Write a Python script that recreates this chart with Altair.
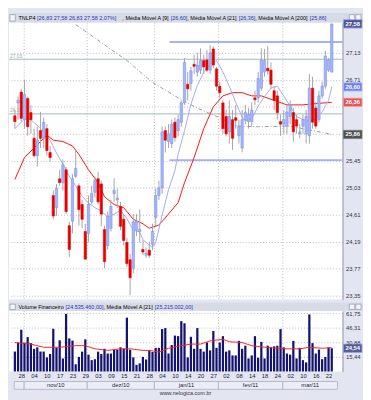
import altair as alt
import pandas as pd

# ---------------- data ----------------
ticker = "TNLP4"
day_labels = ['28', '04', '10', '17', '23', '29', '03', '09', '15', '21', '28', '04', '10',
              '14', '20', '27', '02', '08', '14', '18', '24', '02', '10', '16', '22']
label_first, label_step = 2, 4
month_names = ['', 'nov/10', 'dez/10', 'jan/11', 'fev/11', 'mar/11']
month_edges = [-0.2, 2.9, 22.6, 43.6, 63.6, 83.7, 100.8]

opens = [26.15, 26.35, 26.52, 26.09, 26.42, 26.20, 25.80, 25.53, 25.92, 25.80,
         25.95, 25.58, 24.91, 24.72, 25.17, 25.11, 25.31, 24.44, 24.51, 25.21,
         25.06, 24.77, 24.35, 24.32, 24.81, 24.96, 25.17, 25.09, 24.38, 24.13,
         24.40, 24.94, 24.84, 24.74, 24.54, 24.18, 23.91, 23.78, 24.37, 24.35,
         24.07, 23.98, 24.06, 24.15, 24.57, 24.91, 25.03, 25.92, 25.75, 25.72,
         26.05, 25.92, 26.05, 26.35, 26.64, 26.65, 26.95, 26.83, 26.86, 27.01,
         27.02, 26.86, 27.19, 26.88, 26.61, 26.35, 26.14, 25.90, 26.09, 26.12,
         25.84, 25.65, 26.09, 26.06, 26.06, 26.43, 26.43, 26.58, 26.83, 26.89,
         26.86, 26.54, 26.46, 26.06, 26.02, 25.99, 26.14, 26.20, 26.09, 25.87,
         25.99, 25.87, 25.84, 26.58, 26.27, 26.09, 26.46, 26.61, 26.86, 26.83]
highs = [26.24, 26.45, 26.57, 26.71, 26.45, 26.32, 25.95, 25.98, 26.21, 26.12,
         26.02, 25.68, 24.99, 25.09, 25.31, 25.47, 25.36, 24.50, 25.24, 25.62,
         25.10, 24.84, 24.47, 24.91, 25.06, 25.21, 25.28, 25.14, 24.44, 24.66,
         24.84, 25.18, 25.02, 24.81, 24.62, 24.25, 24.00, 24.62, 24.62, 24.69,
         24.21, 24.10, 24.18, 24.47, 25.02, 25.14, 25.98, 25.98, 26.02, 26.09,
         26.12, 26.17, 26.39, 27.05, 26.83, 26.91, 27.10, 27.13, 27.20, 27.10,
         27.17, 27.25, 27.23, 26.91, 26.68, 26.39, 26.24, 26.39, 26.24, 26.32,
         26.09, 26.24, 26.32, 26.27, 26.36, 26.54, 26.83, 27.20, 27.19, 27.23,
         26.98, 26.61, 26.54, 26.17, 26.24, 26.32, 26.39, 26.27, 26.17, 26.02,
         26.17, 26.24, 26.80, 26.76, 26.36, 26.54, 26.68, 27.16, 27.05, 27.58]
lows = [25.95, 26.09, 26.06, 25.95, 25.84, 25.87, 25.50, 25.36, 25.65, 25.65,
        25.53, 25.43, 24.54, 24.59, 25.06, 24.99, 24.62, 23.95, 24.32, 25.18,
        24.44, 24.40, 23.91, 24.18, 24.77, 24.88, 24.77, 24.43, 23.78, 24.07,
        24.35, 24.81, 24.72, 24.37, 24.13, 23.80, 23.36, 23.70, 24.28, 24.18,
        23.98, 23.94, 23.94, 24.06, 24.43, 24.84, 24.94, 25.58, 25.65, 25.65,
        25.75, 25.83, 25.98, 26.32, 26.39, 26.54, 26.80, 26.76, 26.80, 26.80,
        26.83, 26.80, 26.89, 26.54, 26.42, 25.87, 25.83, 25.72, 25.62, 25.95,
        25.72, 25.58, 26.02, 25.95, 25.98, 26.32, 26.36, 26.54, 26.76, 26.79,
        26.57, 26.24, 26.09, 25.84, 25.87, 25.87, 26.02, 25.75, 25.87, 25.80,
        25.87, 25.72, 25.72, 25.95, 25.95, 26.05, 26.42, 26.57, 26.83, 26.83]
closes = [26.06, 26.39, 26.11, 26.48, 25.98, 26.09, 25.53, 25.77, 25.80, 26.05,
          25.61, 25.50, 24.59, 25.02, 25.11, 25.39, 24.66, 24.07, 25.17, 25.33,
          24.69, 24.54, 23.92, 24.77, 24.94, 25.14, 24.81, 24.62, 23.88, 24.59,
          24.74, 24.99, 24.87, 24.43, 24.21, 23.85, 23.63, 24.50, 24.51, 24.38,
          24.03, 24.01, 23.98, 24.35, 24.91, 25.03, 25.90, 25.77, 25.87, 26.02,
          25.81, 26.09, 26.35, 26.98, 26.57, 26.85, 26.92, 26.94, 27.01, 26.91,
          26.86, 27.13, 26.94, 26.61, 26.51, 25.95, 25.87, 26.14, 25.80, 26.08,
          25.99, 26.09, 26.20, 26.17, 26.24, 26.40, 26.73, 27.02, 27.01, 26.85,
          26.64, 26.39, 26.20, 26.02, 26.09, 26.21, 26.32, 25.90, 25.99, 25.90,
          26.09, 26.14, 26.58, 26.05, 25.99, 26.46, 26.61, 27.08, 27.02, 27.58]
# financial volume, millions of R$
volumes = [21.1, 30.6, 44.2, 30.6, 36.4, 30.0, 24.0, 25.6, 21.1, 21.1,
           14.9, 18.5, 45.2, 25.0, 33.0, 13.8, 61.0, 35.0, 32.7, 7.6,
           15.4, 21.0, 34.0, 17.8, 12.0, 13.0, 21.0, 18.5, 24.0, 19.0,
           19.0, 23.0, 23.0, 25.6, 24.0, 57.0, 23.0, 14.9, 7.0, 8.6,
           15.4, 12.7, 22.3, 20.6, 25.0, 25.0, 44.9, 45.9, 19.0, 28.0,
           38.0, 37.4, 53.3, 51.0, 14.9, 36.7, 24.0, 45.9, 24.0, 21.0,
           30.6, 22.3, 42.8, 25.0, 30.6, 37.4, 21.0, 22.3, 17.0, 17.0,
           32.4, 24.0, 27.3, 13.8, 17.0, 37.4, 14.5, 31.3, 13.8, 27.3,
           25.6, 26.6, 27.3, 44.9, 25.6, 19.0, 17.8, 32.4, 13.8, 25.0,
           12.0, 9.6, 60.4, 30.0, 19.0, 23.2, 13.0, 15.4, 25.6, 24.53546]

ma9_idx = [0, 3, 5, 7, 9, 11, 13, 15, 17, 19, 21, 23, 25, 27, 29, 31, 33, 35, 37, 39,
           40, 42, 43, 44, 46, 48, 50, 51, 53, 55, 57, 59, 61, 63, 65, 67, 69, 71, 72, 74,
           76, 78, 80, 82, 84, 86, 88, 90, 92, 94, 96, 98, 99]
ma9_val = [25.95, 26.10, 26.09, 26.00, 25.90, 25.77, 25.57, 25.40, 25.21, 25.06, 24.90,
           24.79, 24.72, 24.67, 24.57, 24.62, 24.68, 24.55, 24.37, 24.34, 24.22, 24.14,
           24.10, 24.18, 24.60, 25.00, 25.30, 25.55, 25.92, 26.33, 26.62, 26.83, 26.95,
           27.01, 26.83, 26.61, 26.36, 26.13, 26.07, 26.10, 26.30, 26.45, 26.58, 26.61,
           26.46, 26.30, 26.14, 26.09, 26.06, 26.11, 26.21, 26.39, 26.60]
ma21_idx = [0, 3, 7, 10, 12, 15, 18, 20, 23, 26, 28, 31, 34, 37, 40, 42, 45, 48, 51, 53,
            56, 59, 62, 65, 68, 71, 74, 77, 81, 85, 90, 94, 99]
ma21_val = [25.16, 25.50, 25.70, 25.85, 25.77, 25.75, 25.68, 25.55, 25.31, 25.11, 24.89,
            24.77, 24.72, 24.54, 24.47, 24.40, 24.45, 24.62, 24.80, 25.11, 25.50, 25.95,
            26.29, 26.46, 26.51, 26.51, 26.46, 26.46, 26.39, 26.32, 26.32, 26.34, 26.36]
ma200_idx = [19, 25, 35, 43, 51, 57, 64, 69, 76, 86, 99]
ma200_val = [27.57, 27.36, 27.01, 26.67, 26.43, 26.27, 26.12, 25.99, 25.98, 25.99, 25.86]
vma_idx = [0, 5, 9, 14, 19, 22, 25, 29, 33, 36, 40, 42, 45, 48, 52, 55, 58, 61, 65, 67,
           71, 74, 78, 82, 85, 89, 92, 96, 99]
vma_val = [30.6, 29.0, 25.6, 25.6, 27.3, 27.3, 24.0, 22.3, 24.0, 24.0, 22.3, 22.3, 20.6,
           24.6, 27.3, 29.0, 29.0, 32.4, 34.0, 31.5, 30.6, 27.3, 25.6, 24.6, 24.0, 24.0,
           25.6, 24.6, 25.215002]

price_ticks = [27.13, 26.71, 26.29, 25.87, 25.45, 25.03, 24.61, 24.19, 23.77, 23.35]
vol_ticks = [15.44, 30.88, 46.31, 61.75]
gray_levels = [27.03, 26.18]
channel_levels = [27.30, 25.46]
channel_start = 48.3

# ---------------- layout & style ----------------
W, HM, HV = 342, 284, 62
FONT = 'Liberation Sans'
BLACK, BLUE = '#000000', '#2435c0'
BG, BAR_BG = '#e3e6f1', '#d6dbe6'
xdom = [-0.32, 100.84]
xscale = alt.Scale(domain=xdom, nice=False, zero=False)
pscale = alt.Scale(domain=[23.29, 27.60], nice=False, zero=False)
vscale = alt.Scale(domain=[0, 64], nice=False, zero=False)


def fmt2(v):
    return f"{v:.2f}".replace('.', ',')


def fmt_big(v):
    return f"{v:,.2f}".replace(',', '#').replace('.', ',').replace('#', '.')


EM = {',': .278, '.': .278, ' ': .278, '[': .278, ']': .278, '%': .889, 'T': .611,
      'N': .722, 'L': .556, 'P': .667, 'M': .833, 'A': .667, 'V': .667, 'F': .611,
      'i': .222, 'l': .222, 'v': .5, 'c': .5, 'r': .333, 'm': .833}


def tw(s, size):
    return sum(EM.get(ch, .556) for ch in s) * size


def title_layers(segments, x0, y, size):
    out, x = [], x0
    for s, col in segments:
        lead = len(s) - len(s.lstrip())
        x += tw(' ' * lead, size)
        out.append(alt.Chart(pd.DataFrame({'t': [s.strip()]})).mark_text(
            align='left', baseline='middle', fontSize=size, font=FONT, color=col
        ).encode(x=alt.value(x), y=alt.value(y), text='t:N'))
        x += tw(s.lstrip(), size)
    return out


def bar_decor(h):
    one = pd.DataFrame({'a': [0]})
    rect = alt.Chart(one).mark_rect(color=BAR_BG).encode(
        x=alt.value(0), x2=alt.value(363), y=alt.value(-h), y2=alt.value(0))
    icons = []
    for xa in [1.0, 349.0, 355.5]:
        icons.append(alt.Chart(one).mark_rect(fill='#f4f5f9', stroke='#8088a0', strokeWidth=0.6).encode(
            x=alt.value(xa), x2=alt.value(xa + 5.5), y=alt.value(-h + 1.6), y2=alt.value(-1.6)))
    return [rect] + icons


candles = pd.DataFrame({'i': list(range(len(opens))), 'o': opens, 'h': highs,
                        'l': lows, 'c': closes, 'v': volumes})
candles['dir'] = ['up' if c >= o else 'down' for o, c in zip(opens, closes)]

highlights = [closes[-1], ma9_val[-1], ma21_val[-1], ma200_val[-1]]
hidden = [t for t in price_ticks if any(abs(t - h) < 0.1 for h in highlights)]
hidden_js = '[' + ','.join(str(t) for t in hidden) + ']'
price_axis = alt.Axis(orient='right', values=price_ticks, title=None,
                      labelExpr=f"indexof({hidden_js}, datum.value) >= 0 ? '' : replace(format(datum.value, '.2f'), '.', ',')",
                      grid=True, gridDash=[1, 2], gridColor='#b9b9c4', ticks=False,
                      domain=True, domainColor='#8d94ab', labelFontSize=6, labelFont=FONT,
                      labelColor='#333344', labelPadding=3)
vol_axis = alt.Axis(orient='right', values=vol_ticks, title=None,
                    labelExpr="replace(format(datum.value, '.2f'), '.', ',')",
                    grid=True, gridDash=[1, 2], gridColor='#b9b9c4', ticks=False,
                    domain=True, domainColor='#8d94ab', labelFontSize=6, labelFont=FONT,
                    labelColor='#333344', labelPadding=3)
day_js = '[' + ','.join(f"'{d}'" for d in day_labels) + ']'
date_axis = alt.Axis(values=[label_first + label_step * k for k in range(len(day_labels))],
                     labelExpr=f"{day_js}[round((datum.value - {label_first}) / {label_step})]",
                     title=None, ticks=False, domain=False, grid=False, labelFontSize=6,
                     labelFont=FONT, labelColor='#222233', labelPadding=1.4)

XM = alt.X('i:Q', scale=xscale, axis=None)


def YP(f):
    return alt.Y(f, scale=pscale, axis=price_axis)


month_df = pd.DataFrame({'start': month_edges[:-1], 'end': month_edges[1:], 'name': month_names})
month_df['mid'] = (month_df['start'] + month_df['end']) / 2
edge_df = pd.DataFrame({'i': month_edges[1:-1]})

# ---------------- main price panel ----------------
m_layers = bar_decor(9.8)
prev_close = closes[-2]
pct = (closes[-1] / prev_close - 1) * 100
main_title = [(ticker + ' ', BLACK),
              (f"[{fmt2(opens[-1])}  {fmt2(highs[-1])}  {fmt2(lows[-1])}  {fmt2(closes[-1])}  {fmt2(pct)}%]", BLUE),
              (', Média Móvel A [9] ', BLACK), (f"[{fmt2(ma9_val[-1])}]", BLUE),
              (', Média Móvel A [21] ', BLACK), (f"[{fmt2(ma21_val[-1])}]", BLUE),
              (', Média Móvel A [200] ', BLACK), (f"[{fmt2(ma200_val[-1])}]", BLUE)]
m_layers += title_layers(main_title, 9.8, -4.9, 5.6)

m_layers.append(alt.Chart(edge_df).mark_rule(strokeDash=[1, 2], color='#b9b9c4').encode(x=XM))
gray_df = pd.DataFrame({'lvl': gray_levels, 'txt': [fmt2(v) for v in gray_levels]})
m_layers.append(alt.Chart(gray_df).mark_rule(color='#a2b8b8', strokeWidth=1).encode(y=YP('lvl:Q')))
m_layers.append(alt.Chart(gray_df).mark_text(align='left', baseline='bottom', fontSize=5, font=FONT,
                                             color='#9aa6a6', dy=-0.5).encode(
    x=alt.value(1), y=YP('lvl:Q'), text='txt:N'))
chan_df = pd.DataFrame({'i': [channel_start] * 2, 'lvl': channel_levels})
m_layers.append(alt.Chart(chan_df).mark_rule(color='#a7b1fb', strokeWidth=2).encode(
    x=XM, x2=alt.value(W), y=YP('lvl:Q')))
m_layers.append(alt.Chart(pd.DataFrame({'i': ma200_idx, 'm': ma200_val})).mark_line(
    color='#9c9c9c', strokeWidth=1, strokeDash=[4, 2, 1, 2], clip=True).encode(x=XM, y=YP('m:Q')))
m_layers.append(alt.Chart(pd.DataFrame({'i': ma21_idx, 'm': ma21_val})).mark_line(
    color='#ff1010', strokeWidth=1, clip=True).encode(x=XM, y=YP('m:Q')))
m_layers.append(alt.Chart(pd.DataFrame({'i': ma9_idx, 'm': ma9_val})).mark_line(
    color='#a3abf2', strokeWidth=1, clip=True).encode(x=XM, y=YP('m:Q')))
m_layers.append(alt.Chart(candles).mark_rule(color='#a4a4aa', strokeWidth=1).encode(
    x=XM, y=YP('l:Q'), y2='h:Q'))
m_layers.append(alt.Chart(candles).mark_bar(size=2.4, strokeWidth=0.6).encode(
    x=XM, y=YP('o:Q'), y2='c:Q',
    fill=alt.Fill('dir:N', scale=alt.Scale(domain=['up', 'down'], range=['#a6b7f6', '#e60000']), legend=None),
    stroke=alt.Stroke('dir:N', scale=alt.Scale(domain=['up', 'down'], range=['#7890ee', '#e60000']), legend=None)))
hl_df = pd.DataFrame({'v': highlights, 'txt': [fmt2(v) for v in highlights],
                      'fill': ['#17226e', '#4058f2', '#f01414', '#111111'],
                      'edge': ['#6f86f0', '#9fb0ff', '#ff8080', '#555555']})
m_layers.append(alt.Chart(hl_df).mark_tick(orient='horizontal', size=19, thickness=8.5, strokeWidth=0.8).encode(
    x=alt.value(W + 10.5), y=YP('v:Q'), fill=alt.Fill('fill:N', scale=None),
    stroke=alt.Stroke('edge:N', scale=None)))
m_layers.append(alt.Chart(hl_df).mark_text(fontSize=6, font=FONT, fontWeight='bold', color='white',
                                           align='center', baseline='middle').encode(
    x=alt.value(W + 10.5), y=YP('v:Q'), text='txt:N'))
main = alt.layer(*m_layers).properties(width=W, height=HM)

# ---------------- volume panel ----------------
XV = alt.X('i:Q', scale=xscale, axis=date_axis)


def YV(f):
    return alt.Y(f, scale=vscale, axis=vol_axis)


v_layers = bar_decor(8.6)
vol_title = [('Volume Financeiro ', BLACK), (f"[{fmt_big(volumes[-1] * 1e6)}]", BLUE),
             (', Média Móvel A [21] ', BLACK), (f"[{fmt_big(vma_val[-1] * 1e6)}]", BLUE)]
v_layers += title_layers(vol_title, 9.8, -4.3, 5.6)
v_layers.append(alt.Chart(edge_df).mark_rule(strokeDash=[1, 2], color='#b9b9c4').encode(x=XV))
v_layers.append(alt.Chart(candles).mark_bar(size=2.3, color='#14146e').encode(x=XV, y=YV('v:Q')))
v_layers.append(alt.Chart(pd.DataFrame({'i': vma_idx, 'm': vma_val})).mark_line(
    color='#ff2020', strokeWidth=1).encode(x=XV, y=YV('m:Q')))
vhl = pd.DataFrame({'v': [volumes[-1]], 'txt': [fmt2(volumes[-1])]})
v_layers.append(alt.Chart(vhl).mark_tick(orient='horizontal', size=19, thickness=8.5, fill='#17226e',
                                         stroke='#6f86f0', strokeWidth=0.8).encode(
    x=alt.value(W + 10.5), y=YV('v:Q')))
v_layers.append(alt.Chart(vhl).mark_text(fontSize=6, font=FONT, fontWeight='bold', color='white',
                                         align='center', baseline='middle').encode(
    x=alt.value(W + 10.5), y=YV('v:Q'), text='txt:N'))
v_layers.append(alt.Chart(month_df).mark_rect(fill='#eceef7', stroke='#b3b8cc', strokeWidth=1).encode(
    x=alt.X('start:Q', scale=xscale, axis=date_axis), x2='end:Q',
    y=alt.value(HV + 10.3), y2=alt.value(HV + 18.3)))
v_layers.append(alt.Chart(month_df).mark_text(fontSize=6, font=FONT, color='#222233',
                                              align='center', baseline='middle').encode(
    x=alt.X('mid:Q', scale=xscale, axis=date_axis), y=alt.value(HV + 14.3), text='name:N'))
v_layers.append(alt.Chart(pd.DataFrame({'t': ['www.nelogica.com.br']})).mark_text(
    fontSize=5.6, font=FONT, color='#333344', align='center', baseline='middle').encode(
    x=alt.value(181), y=alt.value(HV + 22.4), text='t:N'))
vol = alt.layer(*v_layers).properties(width=W, height=HV)

chart = alt.vconcat(main, vol, spacing=1.7).properties(padding=0).configure(
    background=BG).configure_view(fill='white', stroke=None)

chart.save("out.html", embed_options={"renderer": "svg", "actions": False})
